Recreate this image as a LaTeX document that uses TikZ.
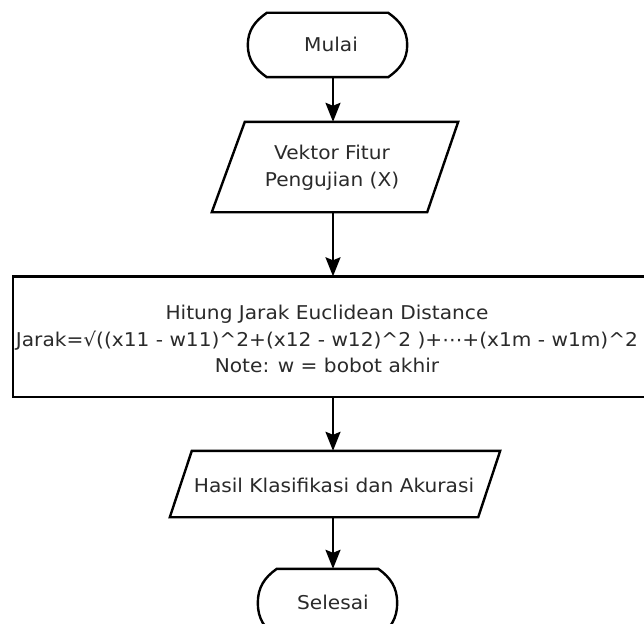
\documentclass[tikz,border=0pt]{standalone}
\usepackage{fontspec}
\setmainfont{DejaVu Sans}[FakeStretch=1.06]
\usetikzlibrary{arrows.meta,calc}
\definecolor{ink}{HTML}{2A2A2A}
\tikzset{
  shapeline/.style={line width=2.4pt, draw=black, line join=miter},
  arr/.style={line width=2.4pt, -{Stealth[length=19pt,width=15pt,inset=3pt]}},
  lbl/.style={text=ink, font=\fontsize{19}{27}\selectfont, align=center, inner sep=0pt},
}
% terminator outline drawn around a placeholder node
\newcommand{\termpath}[1]{%
  \draw[shapeline] ($(#1.north west)+(19,0)$) -- ($(#1.north east)+(-19,0)$)
     to[out=-35,in=90] (#1.east) to[out=-90,in=35] ($(#1.south east)+(-19,0)$)
     -- ($(#1.south west)+(19,0)$) to[out=145,in=-90] (#1.west)
     to[out=90,in=215] cycle;}
\begin{document}
\begin{tikzpicture}[x=1pt,y=-1pt]
  \useasboundingbox (0,0) rectangle (644,623);
  \fill[white] (0,0) rectangle (644,623);
  \begin{scope}
  \clip (0,0) rectangle (644,623);
  % column of the connectors
  \coordinate (ax) at (333,0);

  % start terminator
  \node[minimum width=159pt, minimum height=64pt, inner sep=0pt] (mulai) at (327.5,45) {};
  \termpath{mulai}
  \node[lbl] at (331,44) {Mulai};

  % input parallelogram
  \node[minimum width=246pt, minimum height=90pt, inner sep=0pt] (vektor) at (335,167) {};
  \draw[shapeline] ($(vektor.north west)+(33,0)$) -- (vektor.north east)
     -- ($(vektor.south east)+(-31,0)$) -- (vektor.south west) -- cycle;
  \node[lbl] at (332,168) {Vektor Fitur\\Pengujian (X)};

  % process box
  \node[minimum width=647pt, minimum height=120pt, inner sep=0pt] (hitung) at (336.5,336.5) {};
  \draw[shapeline] (hitung.north west) rectangle (hitung.south east);
  \node[lbl, font=\fontsize{19}{26.5}\selectfont] at (327,339) {Hitung Jarak Euclidean Distance\\
     Jarak=√((x11 - w11)\^{}2+(x12 - w12)\^{}2 )+⋯+(x1m - w1m)\^{}2\\
     Note: w = bobot akhir};

  % output parallelogram
  \node[minimum width=330pt, minimum height=66pt, inner sep=0pt] (hasil) at (335,484) {};
  \draw[shapeline] ($(hasil.north west)+(22,0)$) -- (hasil.north east)
     -- ($(hasil.south east)+(-22,0)$) -- (hasil.south west) -- cycle;
  \node[lbl] at (334,485) {Hasil Klasifikasi dan Akurasi};

  % end terminator
  \node[minimum width=139pt, minimum height=68pt, inner sep=0pt] (selesai) at (327.5,603) {};
  \termpath{selesai}
  \node[lbl] at (333,602) {Selesai};

  % connectors
  \draw[arr] (mulai.south -| ax) -- (vektor.north -| ax);
  \draw[arr] (vektor.south -| ax) -- (hitung.north -| ax);
  \draw[arr] (hitung.south -| ax) -- (hasil.north -| ax);
  \draw[arr] (hasil.south -| ax) -- (selesai.north -| ax);
  \end{scope}
\end{tikzpicture}
\end{document}
